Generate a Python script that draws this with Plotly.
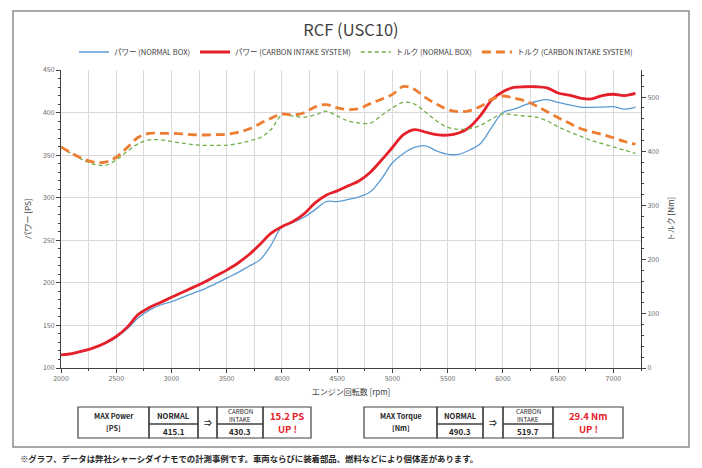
import plotly.graph_objects as go

# engine speed [rpm]
rpm = list(range(2000, 7201, 100))

# power [PS]
power_normal = [115, 116.5, 119.5, 123.5, 129, 136, 146, 159, 168, 174,
                178, 183, 188, 193, 199, 205.5, 212, 219.5, 227, 244,
                266, 271, 277, 286, 295.5, 295.5, 298, 301, 307, 322,
                341, 352, 359, 361, 355, 351, 351, 356, 364, 383,
                400, 404, 409, 413, 415.1, 412, 409, 406.5, 406, 406.5,
                407, 404, 406.5]
power_carbon = [115.5, 117, 120, 124, 129.5, 137, 148, 163, 171, 177,
                183, 189, 195, 201, 208, 215, 223, 233, 245, 258,
                266, 272, 281, 294, 303, 308, 314, 320, 330, 344,
                359, 374, 380, 377, 374, 373.5, 376, 383, 397, 415,
                424.5, 429.5, 430.3, 430.3, 429, 423, 420.5, 417, 416, 420,
                421.5, 420, 422.5]

# torque [Nm]
torque_normal = [408, 395, 384, 376, 374, 384, 400, 414, 421, 421,
                 418, 415, 412, 411, 411, 411, 414, 419, 425, 440,
                 467, 465, 463, 467, 474, 465, 456, 452, 452, 466,
                 480, 490.3, 487, 472, 456, 444, 440.5, 442, 448, 460,
                 469, 467, 465, 463, 456, 445, 436, 428, 420, 414,
                 408, 402, 396]
torque_carbon = [408, 396, 386, 380, 380, 389, 407, 426, 433, 433,
                 433, 432, 430.5, 430, 430.5, 431.5, 435, 441, 451, 461,
                 469, 467, 471, 482, 486, 480, 477, 479, 488, 496,
                 505, 519.7, 514, 499, 487, 477, 473, 475, 483, 496,
                 502, 498, 493, 484, 473, 462, 452, 442, 436, 431,
                 425, 418, 413]

names = ["パワー (NORMAL BOX)", "パワー (CARBON INTAKE SYSTEM)",
         "トルク (NORMAL BOX)", "トルク (CARBON INTAKE SYSTEM)"]

W, H = 702, 468
L, R, T, B = 61, 641, 70, 368   # plot area in pixels


def px(x):
    return (x - L) / (R - L)


def py(y):
    return (B - y) / (B - T)


JP = "Noto Sans CJK JP"
fig = go.Figure()
fig.add_trace(go.Scatter(x=rpm, y=power_normal, name=names[0], mode="lines",
                         line=dict(color="#5b9bd5", width=1.3, shape="spline")))
fig.add_trace(go.Scatter(x=rpm, y=power_carbon, name=names[1], mode="lines",
                         line=dict(color="#e5202a", width=2.8, shape="spline")))
fig.add_trace(go.Scatter(x=rpm, y=torque_normal, name=names[2], mode="lines", yaxis="y2",
                         line=dict(color="#70ad47", width=1.3, dash="4px,3px", shape="spline")))
fig.add_trace(go.Scatter(x=rpm, y=torque_carbon, name=names[3], mode="lines", yaxis="y2",
                         line=dict(color="#ed7d31", width=2.8, dash="9px,5px", shape="spline")))

tickfont = dict(family=JP, size=7, color="#6b6b6b")
fig.update_layout(
    width=W, height=H,
    margin=dict(l=L, r=W - R, t=T, b=H - B),
    paper_bgcolor="white", plot_bgcolor="white",
    font=dict(family=JP, color="#404040"),
    title=dict(text="RCF (USC10)", x=0.5, xref="paper", y=1 - 30 / H, yanchor="middle",
               font=dict(family=JP, size=16.5, color="#404040")),
    showlegend=True,
    legend=dict(orientation="h", x=px(356), xanchor="center", y=py(52), yanchor="middle",
                font=dict(family=JP, size=7.5, color="#404040"), itemwidth=30,
                bgcolor="rgba(0,0,0,0)"),
    xaxis=dict(range=[2000, 7250], dtick=500, tick0=2000, showgrid=True,
               gridcolor="#d9d9d9", gridwidth=1, showline=True, linecolor="#404040",
               ticks="outside", ticklen=4, tickcolor="#404040", tickfont=tickfont,
               minor=dict(dtick=250, showgrid=True, gridcolor="#d9d9d9",
                          ticks="outside", ticklen=2, tickcolor="#404040"),
               title=dict(text="エンジン回転数 [rpm]", font=dict(family=JP, size=8, color="#404040"),
                          standoff=6),
               zeroline=False),
    yaxis=dict(range=[100, 450], dtick=50, showgrid=True, gridcolor="#d9d9d9",
               showline=True, linecolor="#404040", ticks="outside", ticklen=4,
               tickcolor="#404040", tickfont=tickfont,
               minor=dict(dtick=10, ticks="outside", ticklen=2, tickcolor="#404040"),
               title=dict(text="パワー [PS]", font=dict(family=JP, size=8, color="#404040"),
                          standoff=10),
               zeroline=False),
    yaxis2=dict(range=[0, 550], tickvals=[0, 100, 200, 300, 400, 500], overlaying="y",
                side="right", showgrid=False, showline=True, linecolor="#404040",
                ticks="outside", ticklen=4, tickcolor="#404040", tickfont=tickfont,
                minor=dict(dtick=20, ticks="outside", ticklen=2, tickcolor="#404040"),
                title=dict(text="トルク [Nm]", font=dict(family=JP, size=8, color="#404040"),
                           standoff=10),
                zeroline=False),
)

shapes = []
annots = []

# outer frame
shapes.append(dict(type="rect", xref="paper", yref="paper", x0=px(13), x1=px(689),
                   y0=py(447), y1=py(11), line=dict(color="#8c8c8c", width=1.5)))


def box(x0, x1, y0, y1):
    shapes.append(dict(type="rect", xref="paper", yref="paper", x0=px(x0), x1=px(x1),
                       y0=py(y1), y1=py(y0), line=dict(color="#404040", width=1.2)))


def text(x, y, s, color="#262626", size=7.5):
    annots.append(dict(xref="paper", yref="paper", x=px(x), y=py(y), text=s,
                       showarrow=False, xanchor="center", yanchor="middle",
                       font=dict(family=JP, size=size, color=color)))


def table(cols, label, normal, carbon, gain, unit):
    a, b, c, d, e, f = cols
    top, mid, bot = 407, 424, 438
    for x0, x1 in [(a, b), (c, d), (e, f)]:
        box(x0, x1, top, bot)
    box(b, c, top, mid)
    box(b, c, mid, bot)
    box(d, e, top, mid)
    box(d, e, mid, bot)
    text((a + b) / 2, 415.5, "<b>MAX %s</b>" % label, size=7.2)
    text((a + b) / 2, 428, "<b>[%s]</b>" % unit, size=7.2)
    text((b + c) / 2, 415.5, "<b>NORMAL</b>", size=7.5)
    text((b + c) / 2, 431.5, "<b>%.1f</b>" % normal, size=8)
    text((c + d) / 2, 422, "<b>⇒</b>", size=8)
    text((d + e) / 2, 411.5, "CARBON", size=6.3)
    text((d + e) / 2, 419.5, "INTAKE", size=6.3)
    text((d + e) / 2, 431.5, "<b>%.1f</b>" % carbon, size=8)
    text((e + f) / 2, 416, "<b>%.1f %s</b>" % (gain, unit), color="#e5202a", size=9.5)
    text((e + f) / 2, 429, "<b>UP !</b>", color="#e5202a", size=9.5)


p_n, p_c = max(power_normal), max(power_carbon)
t_n, t_c = max(torque_normal), max(torque_carbon)
table([78, 149, 198, 217, 263, 311], "Power", p_n, p_c, p_c - p_n, "PS")
table([364, 437, 483, 503, 553, 623], "Torque", t_n, t_c, t_c - t_n, "Nm")

annots.append(dict(xref="paper", yref="paper", x=px(18), y=py(458), xanchor="left",
                   yanchor="middle", showarrow=False,
                   text="<b>※グラフ、データは弊社シャーシダイナモでの計測事例です。車両ならびに装着部品、燃料などにより個体差があります。</b>",
                   font=dict(family=JP, size=8.4, color="#262626")))

fig.update_layout(shapes=shapes, annotations=annots)
fig.write_html("out.html", config={"displayModeBar": False},
               post_script="document.body.style.margin='0px';")
